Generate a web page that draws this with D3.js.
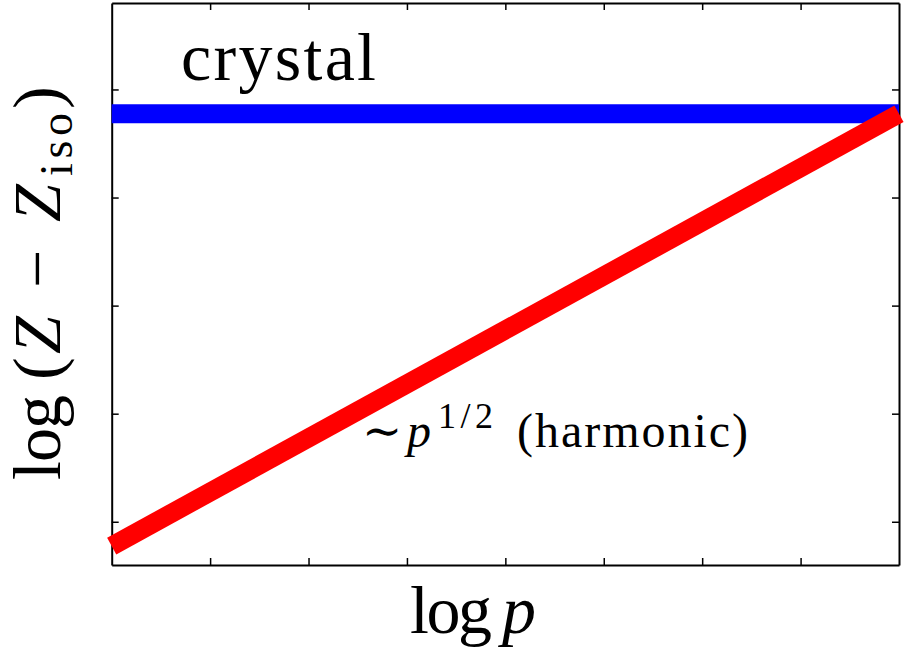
<!DOCTYPE html>
<meta charset="utf-8">
<style>
  body { margin: 0; background: #fff; }
  text { font-family: "Liberation Serif", "Times New Roman", Times, "DejaVu Serif", "Noto Serif", serif; fill: #000; }
  .axis path, .axis line { stroke: #000; }
</style>
<body>
<div id="chart"></div>
<script src="https://d3js.org/d3.v7.min.js"></script>
<script>

// data (arbitrary log units)
var logP = [0, 8];
var crystal = [3.775, 3.775];
var harmonic = [-0.225, 3.775];
var xTicks = [1, 2, 3, 4, 5, 6, 7];
var yTicks = [0, 1, 2, 3, 4];

var width = 904,
    height = 650;

var x = d3.scaleLinear()
    .domain([0, 8])
    .range([111.7, 899]);

var y = d3.scaleLinear()
    .domain([-0.4, 4.8])
    .range([565, 3]);

var svg = d3.select("#chart").append("svg")
    .attr("width", width)
    .attr("height", height);

// frame + inward ticks on all four sides
function addAxis(axis, tx, ty) {
  svg.append("g")
      .attr("class", "axis")
      .attr("transform", "translate(" + tx + "," + ty + ")")
      .call(axis.tickSizeInner(-7).tickSizeOuter(0).tickFormat(""))
      .call(function(g) {
        g.select(".domain").attr("stroke-width", 2);
        g.selectAll(".tick line").attr("stroke-width", 1.5);
      });
}
addAxis(d3.axisBottom(x).tickValues(xTicks), 0, y.range()[0]);
addAxis(d3.axisTop(x).tickValues(xTicks), 0, y.range()[1]);
addAxis(d3.axisLeft(y).tickValues(yTicks), x.range()[0], 0);
addAxis(d3.axisRight(y).tickValues(yTicks), x.range()[1], 0);

var line = d3.line()
    .x(function(d) { return x(d[0]); })
    .y(function(d) { return y(d[1]); });

svg.append("path")
    .datum(d3.zip(logP, crystal))
    .attr("d", line)
    .attr("fill", "none")
    .attr("stroke", "#0000ff")
    .attr("stroke-width", 19);

svg.append("path")
    .datum(d3.zip(logP, harmonic))
    .attr("d", line)
    .attr("fill", "none")
    .attr("stroke", "#ff0000")
    .attr("stroke-width", 19);

// annotations
svg.append("text")
    .attr("x", 181)
    .attr("y", 80)
    .attr("font-size", 68)
    .attr("textLength", 195)
    .text("crystal");

var ann = svg.append("g");
ann.append("text").attr("x", 362).attr("y", 447).attr("font-size", 48).text("\u223C");
ann.append("text").attr("x", 407).attr("y", 447).attr("font-size", 48)
    .attr("font-style", "italic").text("p");
ann.append("text").attr("x", 438).attr("y", 428).attr("font-size", 36)
    .attr("textLength", 55).text("1/2");
ann.append("text").attr("x", 517).attr("y", 447).attr("font-size", 48)
    .attr("textLength", 231).text("(harmonic)");

// x label
svg.append("text").attr("x", 410).attr("y", 633).attr("font-size", 68)
    .attr("textLength", 82).text("log");
svg.append("text").attr("x", 502).attr("y", 633).attr("font-size", 68)
    .attr("font-style", "italic").text("p");

// y label (rotated)
var yl = svg.append("g").attr("transform", "translate(60,0) rotate(-90)");
var parts = [
  { t: "log", at: 480, size: 68, len: 85 },
  { t: "(", at: 380, size: 68 },
  { t: "Z", at: 354, size: 68, it: true },
  { t: "\u2212", at: 288, size: 68 },
  { t: "Z", at: 222, size: 68, it: true },
  { t: "iso", at: 176, size: 46, len: 63, dy: 12 },
  { t: ")", at: 109, size: 68 }
];
parts.forEach(function(p) {
  var t = yl.append("text")
      .attr("x", -p.at)
      .attr("y", p.dy || 0)
      .attr("font-size", p.size)
      .attr("font-style", p.it ? "italic" : null)
      .text(p.t);
  if (p.len) t.attr("textLength", p.len);
});

</script>
</body>
